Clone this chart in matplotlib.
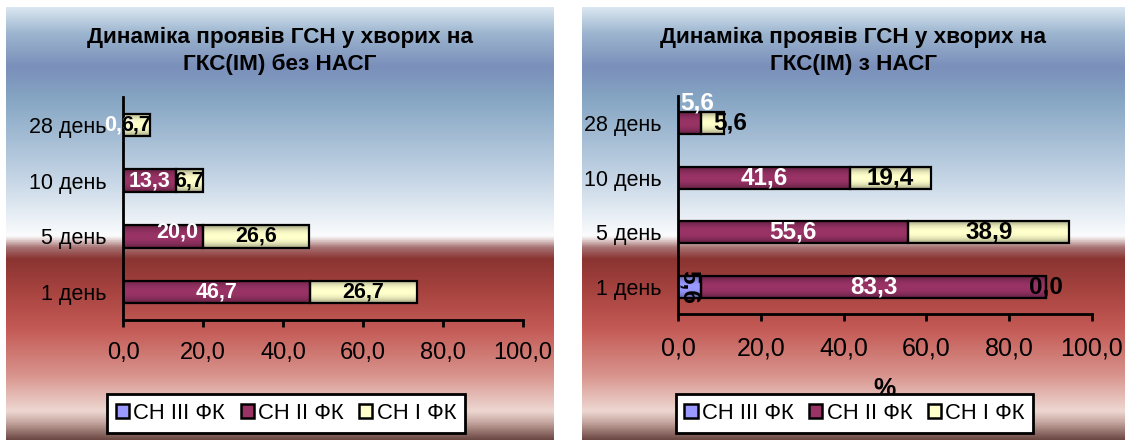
import numpy as np
import matplotlib
matplotlib.use("Agg")
import matplotlib.pyplot as plt
from matplotlib.colors import LinearSegmentedColormap
from matplotlib.patches import Patch

plt.rcParams['font.family'] = ['Liberation Sans', 'DejaVu Sans']

# ---- data -------------------------------------------------------------
days = ["1 день", "5 день", "10 день", "28 день"]
series_names = ["СН III ФК", "СН II ФК", "СН I ФК"]

nan = np.nan
# without НАСГ
left_c3 = [nan, nan, nan, nan]
left_c2 = [46.7, 20.0, 13.3, 0.0]
left_c1 = [26.7, 26.6, 6.7, 6.7]
# with НАСГ
right_c3 = [5.6, nan, nan, nan]
right_c2 = [83.3, 55.6, 41.6, 5.6]
right_c1 = [0.0, 38.9, 19.4, 5.6]

title_left = "Динаміка проявів ГСН у хворих на\nГКС(ІМ) без НАСГ"
title_right = "Динаміка проявів ГСН у хворих на\nГКС(ІМ) з НАСГ"
x_ticks = [0, 20, 40, 60, 80, 100]

# ---- style ------------------------------------------------------------
W, H = 1125, 444
bar_colors = ["#9999ff", "#993366", "#ffffcc"]
label_colors = ["black", "white", "black"]
FS_TITLE = 16.2
FS_LEGEND = 15.8

bg_stops = [
    (0.000, "#dce8f2"), (0.060, "#9db6cf"), (0.138, "#7a8fba"),
    (0.215, "#86a6c4"), (0.400, "#c6d6e6"), (0.530, "#fbfcfd"),
    (0.540, "#e0cccc"), (0.556, "#a87474"), (0.583, "#8a3432"),
    (0.660, "#a84440"), (0.745, "#c45a55"), (0.850, "#d8928c"),
    (0.935, "#eed8d2"), (0.960, "#c8a8a2"), (1.000, "#6e4a45"),
]
bg_cmap = LinearSegmentedColormap.from_list("bg", bg_stops)


def px_rect(x0, y0, x1, y1):
    """Pixel box (top-left origin) -> figure fraction rect."""
    return [x0 / W, 1 - y1 / H, (x1 - x0) / W, (y1 - y0) / H]


def fmt(v):
    return f"{v:.1f}".replace(".", ",")


def shade_overlay(ax, rect):
    x0, y0 = rect.get_x(), rect.get_y()
    w, h = rect.get_width(), rect.get_height()
    if w <= 0:
        return
    t = np.linspace(0, 1, 64)
    alpha = 0.38 * np.abs(2 * t - 1) ** 2.2
    img = np.zeros((64, 1, 4))
    img[:, 0, 3] = alpha
    im = ax.imshow(img, extent=[x0, x0 + w, y0, y0 + h], aspect="auto",
                   interpolation="bilinear", zorder=2.5)
    im.set_clip_path(rect)


def draw_panel(fig, panel_px, axes_px, legend_px, title, series, offsets,
               rotated, fs_label, fs_xtick, fs_ytick, xlabel=None):
    bg = fig.add_axes(px_rect(*panel_px), zorder=0)
    grad = np.linspace(0, 1, 512).reshape(-1, 1)
    bg.imshow(grad, aspect="auto", cmap=bg_cmap, extent=[0, 1, 0, 1],
              interpolation="bilinear")
    bg.axis("off")

    ax = fig.add_axes(px_rect(*axes_px), zorder=1)
    ax.patch.set_alpha(0)
    y = np.arange(len(days))
    left = np.zeros(len(days))
    for s, vals in enumerate(series):
        vals = np.asarray(vals, dtype=float)
        v = np.nan_to_num(vals)
        bars = ax.barh(y, v, left=left, height=0.4, color=bar_colors[s],
                       linewidth=0, zorder=2)
        for r in bars:
            shade_overlay(ax, r)
        ax.barh(y, v, left=left, height=0.4, fill=False, edgecolor="black",
                linewidth=1.6, zorder=3)
        for i, val in enumerate(vals):
            if np.isnan(val):
                continue
            dx, dy = offsets.get((s, i), (0, 0))
            rot = 270 if (s, i) in rotated else 0
            ax.annotate(fmt(val), (left[i] + v[i] / 2, y[i]),
                        xytext=(dx, dy), textcoords="offset pixels",
                        ha="center", va="center", rotation=rot,
                        fontsize=fs_label, fontweight="bold",
                        color=label_colors[s], zorder=4,
                        annotation_clip=False)
        left += v

    ax.set_xlim(0, 100)
    ax.set_ylim(-0.5, len(days) - 0.5)
    ax.set_yticks(y)
    ax.set_yticklabels(days, fontsize=fs_ytick)
    ax.set_xticks(x_ticks)
    ax.set_xticklabels([fmt(t) for t in x_ticks], fontsize=fs_xtick)
    ax.tick_params(axis="y", length=0, pad=12)
    ax.tick_params(axis="x", length=5, width=2, pad=11, direction="out")
    for side in ("top", "right"):
        ax.spines[side].set_visible(False)
    for side in ("left", "bottom"):
        ax.spines[side].set_linewidth(2)
        ax.spines[side].set_color("black")

    cx = (panel_px[0] + panel_px[2]) / 2
    fig.text(cx / W, 1 - 51 / H, title, ha="center", va="center",
             fontsize=FS_TITLE, fontweight="bold", linespacing=1.4, zorder=3)

    if xlabel:
        axc = (axes_px[0] + axes_px[2]) / 2
        fig.text(axc / W, 1 - 389 / H, xlabel, ha="center", va="center",
                 fontsize=fs_xtick, fontweight="bold", zorder=3)

    handles = [Patch(facecolor=c, edgecolor="black", linewidth=1.8)
               for c in bar_colors]
    leg = fig.legend(handles, series_names, loc="center",
                     bbox_to_anchor=(legend_px[0] / W, 1 - legend_px[1] / H),
                     ncol=3, fontsize=FS_LEGEND, frameon=True, fancybox=False,
                     handlelength=0.6, handleheight=0.6, handletextpad=0.2,
                     columnspacing=0.7, borderpad=0.4, borderaxespad=0)
    leg.set_zorder(6)
    fr = leg.get_frame()
    fr.set_edgecolor("black")
    fr.set_linewidth(2)
    fr.set_facecolor("white")
    fr.set_alpha(1)
    return ax


fig = plt.figure(figsize=(W / 100, H / 100), dpi=100, facecolor="white")

draw_panel(fig, (6, 7, 554, 440), (123, 97, 523, 320), (286, 413.5),
           title_left, [left_c3, left_c2, left_c1],
           offsets={(1, 1): (14, 4), (1, 3): (-4, 0)}, rotated=set(),
           fs_label=15.5, fs_xtick=17, fs_ytick=15.5)

draw_panel(fig, (582, 7, 1125, 440), (678, 96, 1092, 314), (854.5, 413.5),
           title_right, [right_c3, right_c2, right_c1],
           offsets={(1, 3): (8, 20), (2, 3): (17, 0)}, rotated={(0, 0)},
           fs_label=17.5, fs_xtick=18, fs_ytick=15.5, xlabel="%")

fig.savefig("out.png", dpi=100, facecolor="white")
